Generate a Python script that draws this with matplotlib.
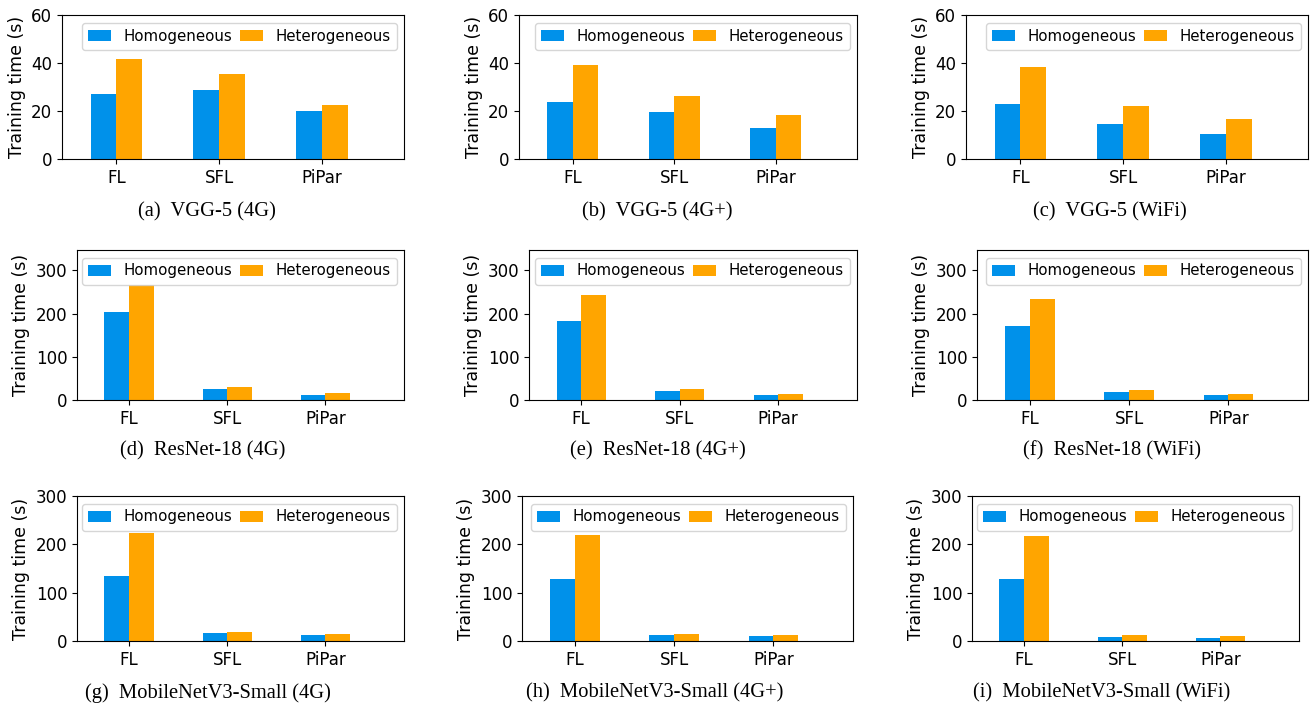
import matplotlib
matplotlib.use("Agg")
import matplotlib.pyplot as plt
import numpy as np

plt.rcParams["font.family"] = "DejaVu Sans"

# Training time (s) per scheme, homogeneous vs heterogeneous devices
schemes = ["FL", "SFL", "PiPar"]

vgg_4g_homo = [27.0, 28.9, 19.9]
vgg_4g_hetero = [41.7, 35.3, 22.6]
vgg_4gp_homo = [23.9, 19.6, 13.0]
vgg_4gp_hetero = [39.2, 26.3, 18.3]
vgg_wifi_homo = [22.8, 14.4, 10.3]
vgg_wifi_hetero = [38.5, 22.1, 16.7]

resnet_4g_homo = [204.5, 25.4, 12.2]
resnet_4g_hetero = [266.8, 30.7, 16.9]
resnet_4gp_homo = [183.0, 21.5, 10.6]
resnet_4gp_hetero = [243.0, 25.4, 14.5]
resnet_wifi_homo = [171.5, 19.2, 10.6]
resnet_wifi_hetero = [233.8, 23.8, 13.0]

mobile_4g_homo = [133.8, 15.7, 13.0]
mobile_4g_hetero = [223.0, 19.2, 14.4]
mobile_4gp_homo = [128.3, 11.5, 9.5]
mobile_4gp_hetero = [219.5, 14.4, 11.5]
mobile_wifi_homo = [127.7, 8.9, 6.8]
mobile_wifi_hetero = [216.8, 13.0, 10.9]

captions = [
    "(a)  VGG-5 (4G)", "(b)  VGG-5 (4G+)", "(c)  VGG-5 (WiFi)",
    "(d)  ResNet-18 (4G)", "(e)  ResNet-18 (4G+)", "(f)  ResNet-18 (WiFi)",
    "(g)  MobileNetV3-Small (4G)", "(h)  MobileNetV3-Small (4G+)",
    "(i)  MobileNetV3-Small (WiFi)",
]

panels = [
    (vgg_4g_homo, vgg_4g_hetero), (vgg_4gp_homo, vgg_4gp_hetero),
    (vgg_wifi_homo, vgg_wifi_hetero),
    (resnet_4g_homo, resnet_4g_hetero), (resnet_4gp_homo, resnet_4gp_hetero),
    (resnet_wifi_homo, resnet_wifi_hetero),
    (mobile_4g_homo, mobile_4g_hetero), (mobile_4gp_homo, mobile_4gp_hetero),
    (mobile_wifi_homo, mobile_wifi_hetero),
]

row_ylim = [60, 347, 300]
row_yticks = [[0, 20, 40, 60], [0, 100, 200, 300], [0, 100, 200, 300]]

# axes boxes in pixels: (left, right, top, bottom)
W, H = 1314, 708
boxes = [
    (62, 404, 15, 159), (519, 857, 15, 159), (966, 1308, 15, 159),
    (77, 404, 250, 400), (529, 857, 250, 400), (977, 1308, 250, 400),
    (77, 404, 496, 641), (522, 853, 496, 641), (972, 1299, 496, 641),
]
caption_pos = [
    (207, 212), (657, 212), (1110, 212),
    (203, 451), (658, 451), (1112, 451),
    (208, 693), (655, 693), (1102, 693),
]

BLUE = "#0091EA"
ORANGE = "#FFA500"

fig = plt.figure(figsize=(W / 100, H / 100), dpi=100)

x = np.arange(len(schemes))
width = 0.25
for i, ((homo, hetero), (l, r, t, b)) in enumerate(zip(panels, boxes)):
    row = i // 3
    ax = fig.add_axes([l / W, 1 - b / H, (r - l) / W, (b - t) / H])
    ax.bar(x - width / 2, homo, width, color=BLUE, label="Homogeneous")
    ax.bar(x + width / 2, hetero, width, color=ORANGE, label="Heterogeneous")
    ax.set_xticks(x)
    ax.set_xticklabels(schemes)
    ax.set_xlim(-0.53, 2.8)
    ax.set_ylim(0, row_ylim[row])
    ax.set_yticks(row_yticks[row])
    ax.tick_params(labelsize=12)
    ax.set_ylabel("Training time (s)", fontsize=12.5)
    ax.legend(loc="upper right", ncol=2, fontsize=10.8, handlelength=1.55,
              columnspacing=0.55, handletextpad=0.8, borderaxespad=0.5)
    cx, cy = caption_pos[i]
    fig.text(cx / W, 1 - cy / H, captions[i], ha="center", va="center",
             fontsize=14.8, family="Liberation Serif")

fig.savefig("out.png", dpi=100)
